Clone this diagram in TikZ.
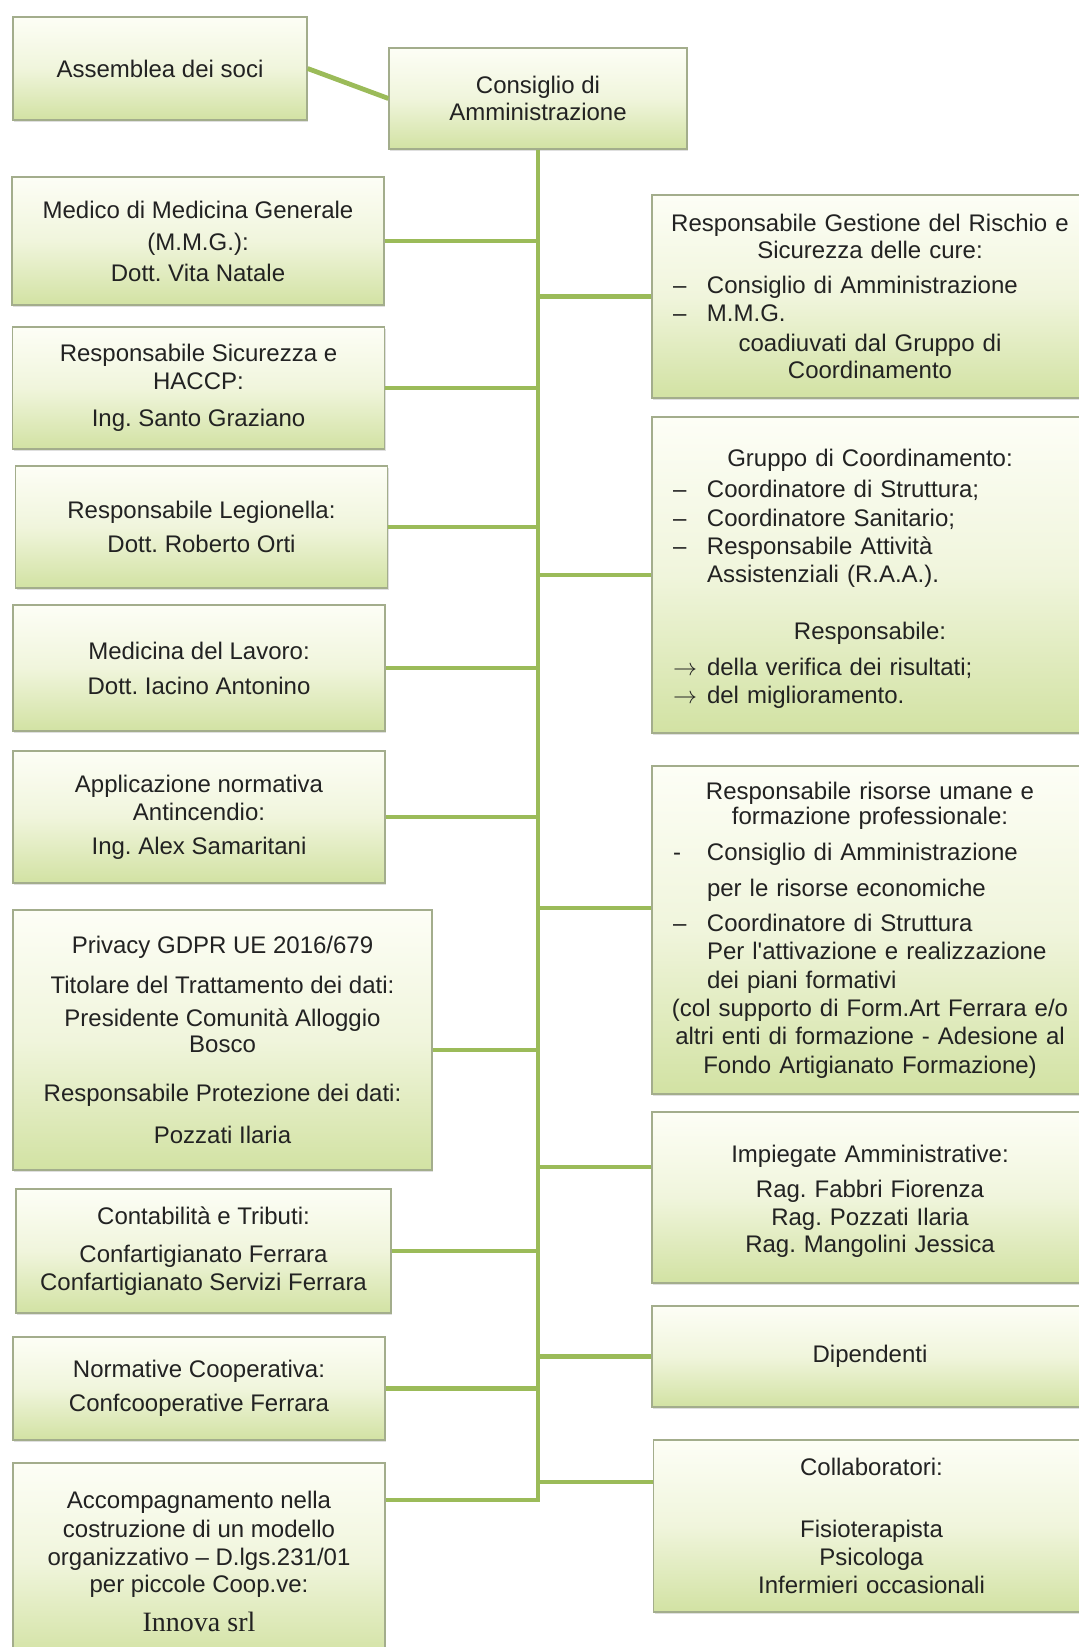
\documentclass[tikz,border=0pt]{standalone}
\usepackage{fontspec}
\setmainfont{Liberation Sans}
\newfontfamily\serifa{Liberation Serif}
\usepackage{tikz}
\usetikzlibrary{shadows}
\frenchspacing

% linhas de lista dentro das caixas da direita
\newcommand{\voce}[2]{\makebox[\hsize][l]{\hspace*{10.5pt}\makebox[17pt][l]{#1}#2}}
\newcommand{\rientro}[1]{\makebox[\hsize][l]{\hspace*{27.5pt}#1}}

\begin{document}
\begin{tikzpicture}[x=0.5pt, y=-0.5pt,
  caixa/.style={draw=borda, line width=0.6pt, inner sep=0pt, align=center,
    top color=fundoA, bottom color=fundoC, middle color=fundoB,
    text=texto, font=\fontsize{12}{13.8}\selectfont,
    drop shadow={opacity=0.25, shadow xshift=0.6pt, shadow yshift=-0.9pt}},
  esq/.style={caixa, minimum width=186pt},
  lado/.style={caixa, text width=218pt},
  ramo/.style={draw=linha, line width=2.4pt}]
% --- ORGANIGRAMMA: CORES HEX, DEGRADE E SOMBRA ---
\definecolor{linha}{HTML}{9BBB59}
\definecolor{borda}{HTML}{A3AD8C}
\definecolor{fundoA}{HTML}{FDFEF6}
\definecolor{fundoB}{HTML}{F0F5DC}
\definecolor{fundoC}{HTML}{D2E2A3}
\definecolor{texto}{HTML}{222222}

\useasboundingbox (0,0) rectangle (1079,1647);
\clip (0,0) rectangle (1079,1647);

% LAYER 1: Vertice
\node[caixa, minimum width=147pt, minimum height=51.5pt] (assembleia) at (160,68.5) {Assemblea dei soci};
\node[caixa, minimum width=149pt, minimum height=50.5pt] (conselho) at (538,98.5) {Consiglio di\\Amministrazione};

% LAYER 2: Coluna esquerda
\node[esq, minimum height=64pt] (medico) at (198,241) {Medico di Medicina Generale\\[2.2pt](M.M.G.):\\[1.7pt]Dott. Vita Natale};
\node[esq, minimum height=61pt] (haccp) at (198.5,388) {Responsabile Sicurezza e\\HACCP:\\[4.7pt]Ing. Santo Graziano};
\node[esq, minimum height=61pt] (legionella) at (201.5,527) {Responsabile Legionella:\\[3.4pt]Dott. Roberto Orti};
\node[esq, minimum height=63pt] (lavoro) at (199,668) {Medicina del Lavoro:\\[3.7pt]Dott. Iacino Antonino};
\node[esq, minimum height=66pt] (antincendio) at (199,817) {Applicazione normativa\\Antincendio:\\[3.2pt]Ing. Alex Samaritani};
\node[caixa, minimum width=209.5pt, minimum height=130pt] (privacy) at (222.5,1040) {Privacy GDPR UE 2016/679\\[6.5pt]Titolare del Trattamento dei dati:\\[2.6pt]Presidente Comunità Alloggio\\[-1pt]Bosco\\[10.6pt]Responsabile Protezione dei dati:\\[7.5pt]Pozzati Ilaria};
\node[esq, minimum width=187.5pt, minimum height=62pt] (contabilita) at (203.5,1251) {Contabilità e Tributi:\\[5.2pt]Confartigianato Ferrara\\Confartigianato Servizi Ferrara};
\node[esq, minimum height=51.5pt] (normativa) at (199,1388.5) {Normative Cooperativa:\\[3.2pt]Confcooperative Ferrara};
\node[esq, minimum height=98.5pt] (accomp) at (199,1561.5) {Accompagnamento nella\\[.7pt]costruzione di un modello\\organizzativo – D.lgs.231/01\\per piccole Coop.ve:\\[5.7pt]{\serifa\fontsize{14}{16}\selectfont Innova srl}};

% LAYER 3: Coluna direita
\node[lado, minimum height=101.5pt] (rischio) at (870,296.5) {Responsabile Gestione del Rischio e\\Sicurezza delle cure:\\[3.7pt]\voce{–}{Consiglio di Amministrazione}\\\voce{–}{M.M.G.}\\[1.2pt]coadiuvati dal Gruppo di\\Coordinamento};
\node[lado, minimum height=158pt] (gruppo) at (870,575) {\rule{0pt}{12.5pt}Gruppo di Coordinamento:\\[1.7pt]\voce{–}{Coordinatore di Struttura;}\\[.7pt]\voce{–}{Coordinatore Sanitario;}\\\voce{–}{Responsabile Attività}\\[.2pt]\rientro{Assistenziali (R.A.A.).}\\[14.7pt]Responsabile:\\[4.2pt]\voce{$\rightarrow$}{della verifica dei risultati;}\\\voce{$\rightarrow$}{del miglioramento.}};
\node[lado, minimum height=164pt] (risorse) at (870,930) {Responsabile risorse umane e\\[-1.3pt]formazione professionale:\\[4.2pt]\voce{-}{Consiglio di Amministrazione}\\[4.2pt]\rientro{per le risorse economiche}\\[3.7pt]\voce{–}{Coordinatore di Struttura}\\[.4pt]\rientro{Per l\textquotesingle attivazione e realizzazione}\\[.4pt]\rientro{dei piani formativi}\\[.4pt](col supporto di Form.Art Ferrara e/o\\[.4pt]altri enti di formazione - Adesione al\\[.4pt]Fondo Artigianato Formazione)};
\node[lado, minimum height=85.5pt] (impiegate) at (870,1197.5) {\rule{0pt}{12.5pt}Impiegate Amministrative:\\[3.7pt]Rag. Fabbri Fiorenza\\Rag. Pozzati Ilaria\\Rag. Mangolini Jessica};
\node[lado, minimum height=50.5pt] (dipendenti) at (870,1356.5) {Dipendenti};
\node[lado, minimum height=86pt] (collab) at (871.5,1526) {Collaboratori:\\[17.2pt]Fisioterapista\\Psicologa\\[.5pt]Infermieri occasionali};

% LAYER 4: Linhas de ligacao
\path ([yshift=-5pt]privacy.east) coordinate (p-priv)
      ([yshift=30.75pt]accomp.east) coordinate (p-acc)
      ([yshift=11pt]risorse.west) coordinate (p-ris)
      ([yshift=15.25pt]impiegate.west) coordinate (p-imp)
      ([yshift=22pt]collab.west) coordinate (p-col);
\draw[ramo] (assembleia.east) -- (conselho.west);
\draw[ramo] (conselho.south) -- (conselho.south |- p-acc) -- (p-acc); % tronco
\foreach \c in {medico.east, haccp.east, legionella.east, lavoro.east, antincendio.east, p-priv, contabilita.east, normativa.east, rischio.west, gruppo.west, p-ris, p-imp, dipendenti.west, p-col}
  \draw[ramo] (\c) -- (\c -| conselho.south);
\end{tikzpicture}
\end{document}
